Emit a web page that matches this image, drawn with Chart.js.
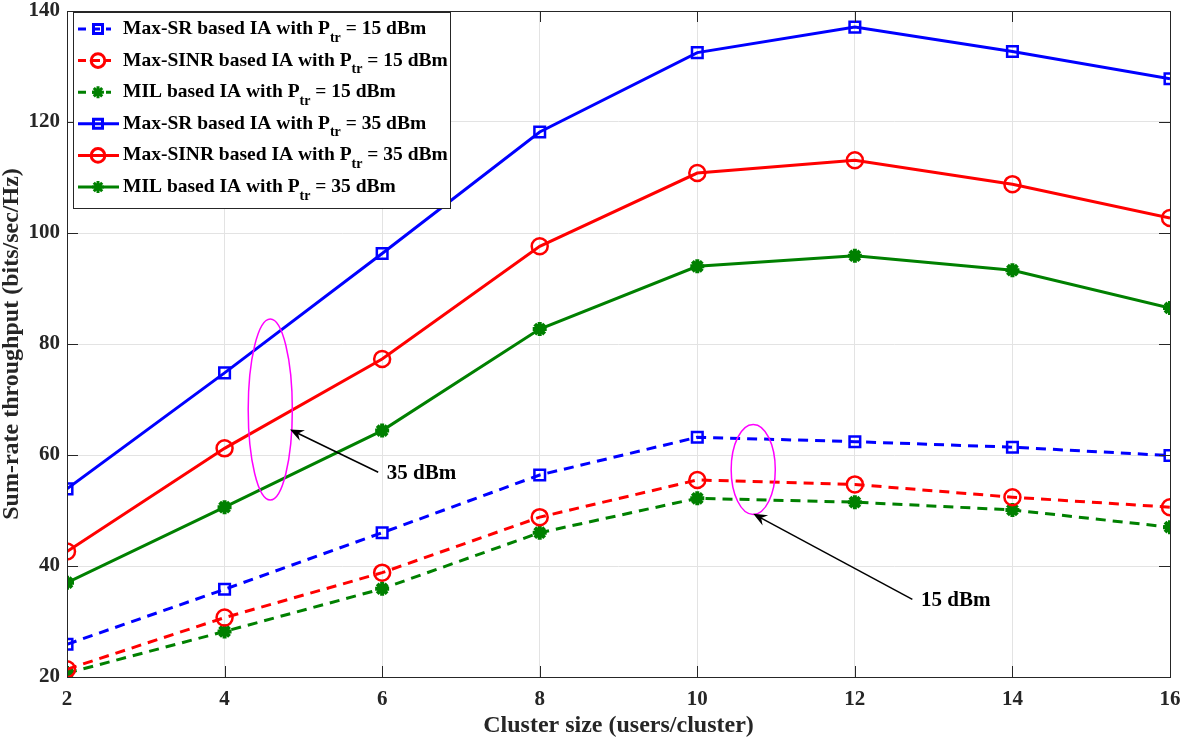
<!DOCTYPE html>
<html>
<head>
<meta charset="utf-8">
<script src="https://cdn.jsdelivr.net/npm/chart.js@4.4.0/dist/chart.umd.min.js"></script>
<style>
  html, body { margin: 0; padding: 0; background: #fff; }
  #chart { display: block; }
</style>
</head>
<body>
<canvas id="chart" width="1181" height="739"></canvas>
<script>
// cluster size (users/cluster)
const clusterSizes = [2, 4, 6, 8, 10, 12, 14, 16];

// sum-rate throughput, Ptr = 15 dBm
const maxSR15   = [25.9, 35.8, 46.0, 56.4, 63.2, 62.4, 61.4, 59.9];
const maxSINR15 = [21.4, 30.7, 38.8, 48.8, 55.5, 54.7, 52.4, 50.6];
const mil15     = [20.7, 28.2, 35.9, 46.0, 52.2, 51.5, 50.1, 47.0];

// sum-rate throughput, Ptr = 35 dBm
const maxSR35   = [53.9, 74.8, 96.3, 118.2, 132.5, 137.1, 132.7, 127.8];
const maxSINR35 = [42.6, 61.2, 77.3, 97.6, 110.8, 113.1, 108.8, 102.7];
const mil35     = [37.0, 50.6, 64.4, 82.7, 94.0, 95.9, 93.3, 86.5];

const xTicks = [2, 4, 6, 8, 10, 12, 14, 16];
const yTicks = [20, 40, 60, 80, 100, 120, 140];

const FONT = "'Liberation Serif', 'Times New Roman', serif";
const BLUE = '#0000ff', RED = '#ff0000', GREEN = '#008000';

const toPoints = vals => clusterSizes.map((x, i) => ({ x: x, y: vals[i] }));

function series(prefix, power, vals, color, style, dashed) {
    return {
        label: prefix + ' based IA with P|tr| = ' + power + ' dBm',
        data: toPoints(vals),
        borderColor: color,
        backgroundColor: style === 'star' ? color : 'rgba(0,0,0,0)',
        borderWidth: 3,
        borderDash: dashed ? [10, 7] : [],
        pointStyle: style,
        pointRadius: style === 'rect' ? 7.5 : (style === 'circle' ? 8 : 7),
        pointBorderWidth: style === 'star' ? 4 : 2.5,
        pointBorderColor: color,
        pointBackgroundColor: style === 'star' ? color : 'rgba(0,0,0,0)',
        tension: 0
    };
}

const datasets = [
    series('Max-SR', 15, maxSR15, BLUE, 'rect', true),
    series('Max-SINR', 15, maxSINR15, RED, 'circle', true),
    series('MIL', 15, mil15, GREEN, 'star', true),
    series('Max-SR', 35, maxSR35, BLUE, 'rect', false),
    series('Max-SINR', 35, maxSINR35, RED, 'circle', false),
    series('MIL', 35, mil35, GREEN, 'star', false)
];

// callouts in data units
const ellipses = [
    { x: 4.58, y: 68.2, rx: 0.28, ry: 16.3 },
    { x: 10.71, y: 57.4, rx: 0.28, ry: 8.1 }
];
const arrows = [
    { from: [5.95, 56.9], to: [4.83, 64.6], text: '35 dBm', tx: 6.06, ty: 56.7 },
    { from: [12.73, 34.0], to: [10.71, 49.4], text: '15 dBm', tx: 12.84, ty: 33.8 }
];

const boxPlugin = {
    id: 'box',
    afterDatasetsDraw(chart) {
        const ctx = chart.ctx;
        const xs = chart.scales.x, ys = chart.scales.y;
        // ellipses + arrows
        ctx.save();
        ctx.strokeStyle = '#ff00ff';
        ctx.lineWidth = 1.5;
        ellipses.forEach(e => {
            const cx = xs.getPixelForValue(e.x), cy = ys.getPixelForValue(e.y);
            const rx = Math.abs(xs.getPixelForValue(e.x + e.rx) - cx);
            const ry = Math.abs(ys.getPixelForValue(e.y + e.ry) - cy);
            ctx.beginPath();
            ctx.ellipse(cx, cy, rx, ry, 0, 0, Math.PI * 2);
            ctx.stroke();
        });
        arrows.forEach(a => {
            const x0 = xs.getPixelForValue(a.from[0]), y0 = ys.getPixelForValue(a.from[1]);
            const x1 = xs.getPixelForValue(a.to[0]), y1 = ys.getPixelForValue(a.to[1]);
            const ang = Math.atan2(y1 - y0, x1 - x0);
            ctx.strokeStyle = '#000';
            ctx.fillStyle = '#000';
            ctx.lineWidth = 1.5;
            ctx.beginPath();
            ctx.moveTo(x0, y0);
            ctx.lineTo(x1 - 8 * Math.cos(ang), y1 - 8 * Math.sin(ang));
            ctx.stroke();
            ctx.beginPath();
            ctx.moveTo(x1, y1);
            ctx.lineTo(x1 - 15 * Math.cos(ang - 0.4), y1 - 15 * Math.sin(ang - 0.4));
            ctx.lineTo(x1 - 9 * Math.cos(ang), y1 - 9 * Math.sin(ang));
            ctx.lineTo(x1 - 15 * Math.cos(ang + 0.4), y1 - 15 * Math.sin(ang + 0.4));
            ctx.closePath();
            ctx.fill();
            ctx.font = 'bold 21px ' + FONT;
            ctx.textBaseline = 'middle';
            ctx.textAlign = 'left';
            ctx.fillText(a.text, xs.getPixelForValue(a.tx), ys.getPixelForValue(a.ty));
        });
        ctx.restore();
    },
    afterDraw(chart) {
        const ctx = chart.ctx;
        const a = chart.chartArea;
        const xs = chart.scales.x, ys = chart.scales.y;
        ctx.save();
        ctx.strokeStyle = '#262626';
        ctx.lineWidth = 1;
        ctx.strokeRect(a.left + 0.5, a.top + 0.5, a.right - a.left, a.bottom - a.top);
        // inward ticks
        ctx.beginPath();
        xTicks.forEach(v => {
            const px = Math.round(xs.getPixelForValue(v)) + 0.5;
            ctx.moveTo(px, a.bottom); ctx.lineTo(px, a.bottom - 11);
            ctx.moveTo(px, a.top); ctx.lineTo(px, a.top + 11);
        });
        yTicks.forEach(v => {
            const py = Math.round(ys.getPixelForValue(v)) + 0.5;
            ctx.moveTo(a.left, py); ctx.lineTo(a.left + 11, py);
            ctx.moveTo(a.right, py); ctx.lineTo(a.right - 11, py);
        });
        ctx.stroke();

        // legend
        const lx = 73, ly = 12, lw = 377, lh = 196, rowH = 31.6;
        ctx.fillStyle = '#fff';
        ctx.fillRect(lx, ly, lw, lh);
        ctx.strokeStyle = '#262626';
        ctx.strokeRect(lx + 0.5, ly + 0.5, lw, lh);
        chart.data.datasets.forEach((ds, i) => {
            const cy = ly + 17 + i * rowH;
            ctx.save();
            ctx.strokeStyle = ds.borderColor;
            ctx.lineWidth = 3;
            ctx.setLineDash(ds.borderDash.length ? [8, 6] : []);
            ctx.beginPath();
            ctx.moveTo(78, cy);
            ctx.lineTo(ds.borderDash.length ? 111 : 119, cy);
            ctx.stroke();
            ctx.setLineDash([]);
            ctx.strokeStyle = ds.pointBorderColor;
            ctx.fillStyle = ds.pointBackgroundColor;
            Chart.helpers.drawPoint(ctx, {
                pointStyle: ds.pointStyle,
                radius: ds.pointRadius * 0.85,
                borderWidth: ds.pointBorderWidth,
                rotation: 0
            }, 98, cy);
            ctx.restore();

            const parts = ds.label.split('|');
            ctx.fillStyle = '#000';
            ctx.textBaseline = 'middle';
            ctx.textAlign = 'left';
            let tx = 123;
            ctx.font = 'bold 19.5px ' + FONT;
            ctx.fillText(parts[0], tx, cy);
            tx += ctx.measureText(parts[0]).width;
            ctx.font = 'bold 14px ' + FONT;
            ctx.fillText(parts[1], tx, cy + 9);
            tx += ctx.measureText(parts[1]).width;
            ctx.font = 'bold 19.5px ' + FONT;
            ctx.fillText(parts[2], tx, cy);
        });
        ctx.restore();
    }
};

new Chart(document.getElementById('chart').getContext('2d'), {
    type: 'line',
    data: { datasets: datasets },
    options: {
        responsive: false,
        animation: false,
        devicePixelRatio: 1,
        layout: { padding: { top: 7, right: 10, left: 0, bottom: 0 } },
        plugins: {
            legend: { display: false },
            tooltip: { enabled: false }
        },
        scales: {
            x: {
                type: 'linear',
                min: 2,
                max: 16,
                afterFit: s => { s.height = 62; s.paddingLeft = 0; s.paddingRight = 0; },
                afterBuildTicks: s => { s.ticks = xTicks.map(v => ({ value: v })); },
                grid: { color: '#e3e3e3', drawTicks: false, lineWidth: 1 },
                border: { display: false },
                ticks: { color: '#262626', padding: 10, font: { family: FONT, size: 21, weight: 'bold' }, maxRotation: 0 },
                title: {
                    display: true,
                    text: 'Cluster size (users/cluster)',
                    color: '#262626',
                    padding: { top: 0, bottom: 0 },
                    font: { family: FONT, size: 24, weight: 'bold', lineHeight: 1.1 }
                }
            },
            y: {
                min: 20,
                max: 140,
                afterFit: s => { s.width = 67; s.paddingTop = 0; s.paddingBottom = 0; },
                afterBuildTicks: s => { s.ticks = yTicks.map(v => ({ value: v })); },
                grid: { color: '#e3e3e3', drawTicks: false, lineWidth: 1 },
                border: { display: false },
                ticks: { color: '#262626', padding: 7, font: { family: FONT, size: 21, weight: 'bold' } },
                title: {
                    display: true,
                    text: 'Sum-rate throughput (bits/sec/Hz)',
                    color: '#262626',
                    padding: { top: 0, bottom: 0 },
                    font: { family: FONT, size: 24, weight: 'bold', lineHeight: 0.95 }
                }
            }
        }
    },
    plugins: [boxPlugin]
});
</script>
</body>
</html>
